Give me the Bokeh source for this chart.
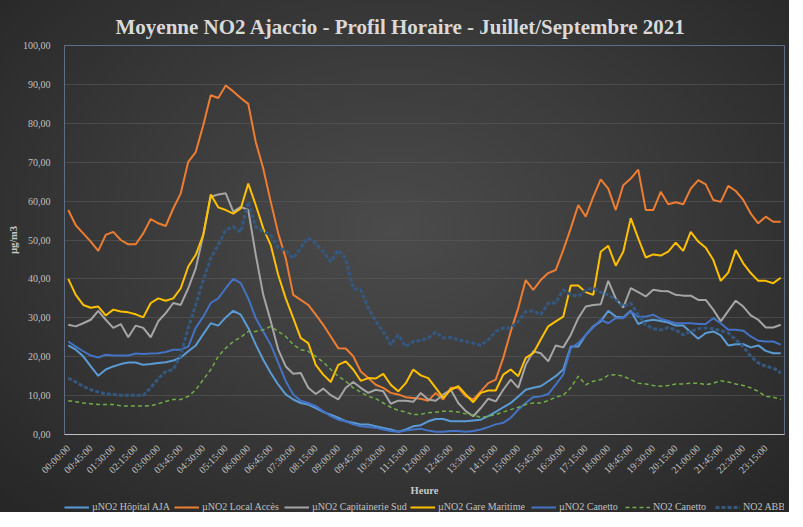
import math
from bokeh.plotting import figure
from bokeh.layouts import column
from bokeh.models import FixedTicker, Range1d, Legend, LegendItem, ColumnDataSource, Title
from bokeh.embed import file_html
from bokeh.resources import INLINE

x_tick_labels = ["00:00:00", "00:45:00", "01:30:00", "02:15:00", "03:00:00", "03:45:00",
                 "04:30:00", "05:15:00", "06:00:00", "06:45:00", "07:30:00", "08:15:00",
                 "09:00:00", "09:45:00", "10:30:00", "11:15:00", "12:00:00", "12:45:00",
                 "13:30:00", "14:15:00", "15:00:00", "15:45:00", "16:30:00", "17:15:00",
                 "18:00:00", "18:45:00", "19:30:00", "20:15:00", "21:00:00", "21:45:00",
                 "22:30:00", "23:15:00"]
y_ticks = [0, 10, 20, 30, 40, 50, 60, 70, 80, 90, 100]
y_tick_labels = ["0,00", "10,00", "20,00", "30,00", "40,00", "50,00", "60,00",
                 "70,00", "80,00", "90,00", "100,00"]

hopital = [22.9, 21.8, 20.1, 17.5, 15.1, 16.7, 17.5, 18.1, 18.5, 18.5, 17.9, 18.1,
           18.4, 18.6, 19.0, 19.8, 21.4, 22.9, 25.8, 28.6, 28.0, 30.1, 31.8, 30.8,
           27.4, 23.1, 19.2, 15.8, 12.8, 10.3, 9.0, 8.1, 7.7, 6.8, 5.8, 5.1,
           4.3, 3.4, 3.0, 2.6, 2.6, 2.1, 1.7, 1.3, 0.7, 1.3, 2.1, 2.4,
           3.4, 4.0, 4.0, 3.4, 3.4, 3.4, 3.6, 3.8, 4.7, 5.8, 7.0, 8.1,
           9.8, 11.5, 12.0, 12.4, 13.7, 15.0, 16.7, 22.6, 22.6, 25.6, 27.8, 29.1,
           31.8, 30.3, 30.1, 31.8, 28.4, 29.2, 29.5, 29.2, 28.8, 28.0, 28.0, 26.3,
           24.6, 26.1, 26.5, 25.5, 22.9, 23.2, 23.2, 22.4, 22.9, 21.5, 20.9, 20.9]
local_acces = [57.7, 53.8, 51.7, 49.6, 47.2, 51.3, 52.1, 50.0, 48.9, 48.9, 51.7, 55.4,
               54.3, 53.6, 58.1, 62.0, 70.1, 72.6, 79.5, 87.2, 86.5, 89.7, 88.2, 86.5,
               85.0, 75.2, 68.4, 59.8, 51.7, 45.3, 35.9, 34.6, 33.3, 30.8, 28.2, 25.2,
               22.2, 22.1, 20.1, 16.2, 14.5, 12.8, 12.0, 10.7, 10.3, 9.6, 9.4, 9.2,
               8.7, 10.7, 9.0, 12.0, 12.0, 9.8, 9.0, 11.1, 13.2, 14.1, 19.7, 26.5,
               32.5, 39.7, 37.2, 39.7, 41.5, 42.3, 47.4, 53.0, 59.0, 56.0, 61.1, 65.6,
               63.2, 57.7, 64.1, 65.8, 68.1, 57.7, 57.7, 62.4, 59.2, 59.7, 59.2, 63.2,
               65.4, 64.3, 60.3, 59.8, 63.9, 62.6, 60.3, 56.8, 54.3, 56.0, 54.7, 54.7]
capitainerie = [28.2, 27.8, 28.6, 29.5, 31.8, 29.5, 27.4, 28.4, 25.0, 28.0, 27.4, 25.0,
                29.1, 31.2, 33.8, 33.3, 37.6, 42.7, 51.3, 61.1, 61.7, 62.0, 57.3, 58.5,
                57.7, 46.2, 35.9, 29.1, 21.8, 17.5, 15.6, 15.8, 12.0, 10.4, 11.8, 10.1,
                9.0, 12.0, 13.5, 12.0, 10.7, 11.5, 11.1, 7.9, 8.7, 8.7, 8.4, 10.7,
                9.0, 8.7, 10.3, 11.5, 8.1, 6.0, 4.7, 6.8, 9.2, 8.5, 11.5, 14.1,
                12.0, 17.9, 21.4, 20.9, 18.8, 22.9, 22.4, 25.6, 29.9, 32.9, 33.3, 33.5,
                39.5, 35.0, 32.6, 37.6, 36.6, 35.5, 37.2, 36.9, 36.8, 35.9, 35.7, 35.7,
                34.6, 34.6, 32.1, 29.1, 31.8, 34.4, 32.9, 30.6, 29.5, 27.5, 27.5, 28.2]
gare_maritime = [40.0, 35.9, 33.3, 32.6, 32.9, 30.6, 32.1, 31.6, 31.4, 30.9, 30.1, 33.8,
                 35.0, 34.4, 35.0, 37.6, 43.2, 46.2, 51.3, 61.7, 58.4, 57.7, 56.8, 58.1,
                 64.5, 59.0, 53.0, 48.7, 41.0, 35.0, 29.9, 24.8, 23.5, 17.9, 15.4, 13.5,
                 17.9, 18.8, 16.7, 13.8, 14.5, 14.4, 15.6, 12.8, 11.1, 13.2, 16.7, 15.2,
                 14.5, 12.0, 9.4, 11.5, 12.4, 10.3, 8.3, 10.7, 11.3, 11.3, 15.4, 16.7,
                 15.0, 19.7, 20.9, 24.4, 27.8, 29.1, 30.3, 38.3, 38.3, 36.6, 35.9, 47.0,
                 48.5, 43.4, 47.0, 55.6, 50.4, 45.5, 46.3, 46.0, 47.0, 49.3, 47.2, 52.1,
                 49.6, 48.0, 44.9, 39.5, 41.6, 47.4, 44.0, 41.5, 39.5, 39.5, 38.9, 40.3]
canetto_micro = [23.9, 22.6, 21.4, 20.3, 19.8, 20.5, 20.3, 20.3, 20.3, 20.8, 20.7, 20.8,
                 20.9, 21.2, 21.8, 21.8, 22.6, 27.4, 30.3, 33.8, 35.0, 37.6, 40.0, 38.9,
                 35.0, 29.9, 26.5, 23.1, 18.4, 13.7, 10.3, 8.7, 8.1, 7.3, 6.0, 4.7,
                 3.8, 3.4, 2.6, 2.1, 1.9, 1.7, 1.3, 0.9, 0.7, 1.0, 1.3, 1.5,
                 1.0, 0.7, 0.7, 0.9, 0.9, 0.7, 0.9, 1.3, 1.9, 2.6, 3.0, 4.3,
                 6.4, 8.1, 9.6, 9.8, 10.4, 12.8, 15.4, 22.2, 23.5, 25.6, 27.5, 29.5,
                 28.6, 29.9, 29.9, 31.6, 30.3, 30.3, 30.8, 29.7, 29.2, 28.6, 28.6, 28.6,
                 28.4, 28.4, 29.9, 28.6, 26.9, 26.9, 26.7, 25.2, 24.1, 23.9, 23.9, 23.1]
canetto_no2 = [8.7, 8.4, 8.1, 7.9, 7.7, 7.7, 7.7, 7.4, 7.3, 7.3, 7.3, 7.4,
               7.9, 8.5, 9.0, 9.0, 9.8, 11.5, 14.1, 16.7, 20.1, 22.2, 23.9, 25.0,
               26.5, 26.5, 26.9, 27.8, 26.5, 25.2, 23.1, 21.8, 21.4, 20.1, 18.6, 16.7,
               15.0, 13.7, 12.0, 10.9, 9.8, 9.2, 8.1, 7.0, 6.2, 5.8, 5.1, 5.2,
               5.6, 5.7, 6.0, 6.0, 5.8, 5.3, 5.0, 4.4, 4.7, 5.1, 5.8, 6.4,
               7.0, 7.7, 8.1, 8.1, 8.7, 9.6, 10.1, 12.0, 15.0, 12.8, 13.7, 14.1,
               15.2, 15.4, 15.0, 14.1, 13.2, 13.0, 12.6, 12.4, 12.6, 13.0, 13.0, 13.2,
               13.2, 12.8, 13.2, 13.8, 13.5, 13.0, 12.6, 12.0, 11.1, 9.8, 9.6, 9.0]
abb_no2 = [14.5, 13.5, 12.4, 11.5, 10.9, 10.5, 10.3, 10.1, 10.1, 10.1, 10.1, 12.0,
           14.4, 16.2, 16.7, 20.5, 27.4, 33.3, 39.7, 45.3, 48.7, 52.6, 53.4, 52.0,
           59.8, 53.4, 52.1, 51.3, 47.9, 47.4, 45.3, 47.9, 50.6, 49.1, 47.0, 44.4,
           47.4, 45.3, 37.6, 37.2, 32.5, 29.1, 26.5, 23.1, 25.6, 22.6, 23.9, 24.2,
           24.8, 26.3, 24.8, 25.0, 24.4, 23.9, 23.5, 22.9, 24.4, 26.5, 27.4, 27.4,
           29.1, 31.6, 31.8, 30.8, 33.8, 33.8, 37.2, 35.9, 35.5, 37.2, 37.6, 36.6,
           35.9, 34.6, 32.9, 33.8, 30.8, 28.2, 27.2, 26.9, 27.5, 26.9, 25.6, 26.5,
           27.2, 27.4, 27.2, 26.7, 26.1, 24.4, 22.6, 20.1, 18.4, 17.5, 17.1, 15.8]

series_names = ["µNO2 Hôpital AJA", "µNO2 Local Accès", "µNO2 Capitainerie Sud",
                "µNO2 Gare Maritime", "µNO2 Canetto", "NO2 Canetto", "NO2 ABB"]

FONT = "Liberation Serif"
xs = list(range(len(hopital)))

p = figure(width=789, height=495, output_backend="svg", toolbar_location=None,
           x_range=Range1d(-0.5, len(xs) - 0.5), y_range=Range1d(0, 100),
           min_border_left=64, min_border_right=5, min_border_top=45, min_border_bottom=60)
p.background_fill_alpha = 0
p.border_fill_alpha = 0
p.outline_line_color = "#5d6f86"
p.outline_line_width = 1

p.title.text = "Moyenne NO2 Ajaccio - Profil Horaire - Juillet/Septembre 2021"
p.title.align = "left"
p.title.offset = 51
p.title.text_font = FONT
p.title.text_font_size = "21px"
p.title.text_font_style = "bold"
p.title.text_color = "#d9d9d9"
p.title.standoff = 13

p.xgrid.grid_line_color = None
p.ygrid.grid_line_color = "#5a5a5a"
p.ygrid.grid_line_alpha = 0.6
p.ygrid.ticker = FixedTicker(ticks=y_ticks)

p.yaxis.ticker = FixedTicker(ticks=y_ticks)
p.yaxis.major_label_overrides = {t: l for t, l in zip(y_ticks, y_tick_labels)}
p.yaxis.axis_line_color = None
p.yaxis.major_tick_line_color = None
p.yaxis.minor_tick_line_color = None
p.yaxis.major_label_standoff = 8
p.yaxis.axis_label = "µg/m3"
p.yaxis.axis_label_standoff = 1
p.yaxis.axis_label_text_font = FONT
p.yaxis.axis_label_text_font_size = "10.5px"
p.yaxis.axis_label_text_font_style = "bold"
p.yaxis.axis_label_text_color = "#c8c8c8"

x_ticks = list(range(0, len(xs), 3))
p.xaxis.ticker = FixedTicker(ticks=x_ticks)
p.xaxis.major_label_overrides = {t: l for t, l in zip(x_ticks, x_tick_labels)}
p.xaxis.major_label_orientation = math.pi / 4
p.xaxis.axis_line_color = "#bfbfbf"
p.xaxis.major_tick_line_color = None
p.xaxis.minor_tick_line_color = None
p.xaxis.major_label_standoff = 6

for ax in (p.xaxis[0], p.yaxis[0]):
    ax.major_label_text_font = FONT
    ax.major_label_text_font_size = "10px"
    ax.major_label_text_color = "#c0c0c0"

p.add_layout(Title(text="Heure", align="center", text_font=FONT, text_font_size="10.5px",
                   text_font_style="bold", text_color="#c8c8c8", standoff=0), "below")

styles = [
    (hopital, "#5B9BD5", 2, "solid"),
    (local_acces, "#ED7D31", 2, "solid"),
    (capitainerie, "#A5A5A5", 2, "solid"),
    (gare_maritime, "#FFC000", 2, "solid"),
    (canetto_micro, "#4472C4", 2, "solid"),
    (canetto_no2, "#70AD47", 1.5, "4 3"),
    (abb_no2, "#34587F", 3, "4 2"),
]
legend_x = [0, 110, 220, 346, 467, 561, 651]

# legend strip below the chart (its lines use the same data, kept out of view)
pl = figure(width=789, height=17, output_backend="svg", toolbar_location=None,
            x_range=Range1d(-0.5, len(xs) - 0.5), y_range=Range1d(-2, -1),
            x_axis_location=None, y_axis_location=None,
            min_border_left=0, min_border_right=0, min_border_top=0, min_border_bottom=0)
pl.grid.visible = False
pl.outline_line_color = None
pl.background_fill_alpha = 0
pl.border_fill_alpha = 0

for name, (vals, color, lw, dash), lx in zip(series_names, styles, legend_x):
    src = ColumnDataSource(dict(x=xs, y=vals))
    p.line("x", "y", source=src, line_color=color, line_width=lw, line_dash=dash)
    key = pl.line("x", "y", source=src, line_color=color, line_width=lw, line_dash=dash)
    lg = Legend(items=[LegendItem(label=name, renderers=[key])], location=(lx, 0),
                label_text_font=FONT, label_text_font_size="10px",
                label_text_color="#c0c0c0", background_fill_alpha=0,
                border_line_alpha=0, glyph_width=25, glyph_height=10,
                label_standoff=3, spacing=0, padding=0, margin=0)
    pl.add_layout(lg, "center")

layout = column(p, pl, spacing=0)
layout.styles = {"background-image": "radial-gradient(ellipse at 50% 45%, #4b4b4b 0%, #3b3b3b 45%, #262626 100%)"}

open("out.html", "w").write(file_html(layout, INLINE))
